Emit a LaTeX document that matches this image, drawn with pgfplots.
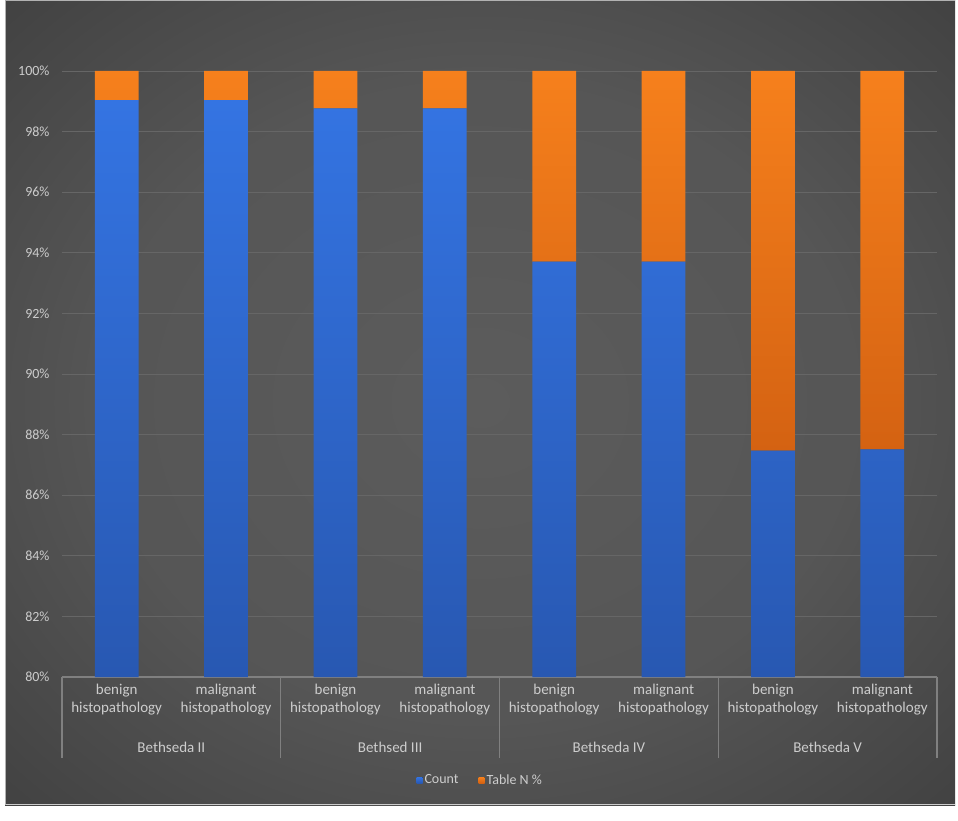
\documentclass[border=0pt]{standalone}
\usepackage{pgfplots}
\pgfplotsset{compat=1.18}
\usepackage{fontspec}
\setmainfont{Carlito}
\definecolor{lbl}{RGB}{205,205,205}
\definecolor{blueA}{RGB}{52,116,226}
\definecolor{blueB}{RGB}{40,88,178}
\definecolor{orA}{RGB}{246,128,28}
\definecolor{orB}{RGB}{212,98,18}
\definecolor{gridc}{RGB}{102,102,102}
\definecolor{sepc}{RGB}{128,128,128}
\definecolor{bgin}{RGB}{92,92,92}
\definecolor{bgmid}{RGB}{60,60,60}
\definecolor{bgout}{RGB}{34,34,34}
\pgfdeclareradialshading{bgshade}{\pgfpoint{0bp}{0bp}}{color(0bp)=(bgin); color(20bp)=(bgin!80!bgmid); color(40bp)=(bgmid); color(60bp)=(bgout); color(100bp)=(bgout)}
\begin{document}
\begin{tikzpicture}[x=1pt,y=1pt]
\fill[white] (0,0) rectangle (958,820);
\shade[shading=bgshade] (5,15) rectangle (955,820);
\draw[gray!60, line width=1pt] (5.5,15.5) -- (5.5,819.5) -- (955,819.5);
\draw[gray!40, line width=1pt] (5.5,15.5) -- (955,15.5);
\begin{axis}[
  at={(62pt,143pt)}, anchor=south west,
  scale only axis, width=875pt, height=606pt,
  ybar stacked, bar width=0.4,
  xmin=-0.5, xmax=7.5, ymin=80, ymax=100,
  clip mode=individual,
  axis line style={draw=none},
  major tick length=0pt,
  ytick={80,82,...,100},
  yticklabels={80\%,82\%,84\%,86\%,88\%,90\%,92\%,94\%,96\%,98\%,100\%},
  yticklabel style={xshift=-9pt, font=\fontsize{14}{16}\selectfont, text=lbl},
  xtick={0,...,7},
  xticklabels={{benign\\histopathology},{malignant\\histopathology},{benign\\histopathology},{malignant\\histopathology},{benign\\histopathology},{malignant\\histopathology},{benign\\histopathology},{malignant\\histopathology}},
  xticklabel style={align=center, yshift=-4pt, font=\fontsize{15}{18}\selectfont, text=lbl},
  ymajorgrids, grid style={gridc, line width=0.9pt},
  legend columns=2,
  legend style={at={(0.478,-0.170)}, anchor=center, draw=none, fill=none,
    font=\fontsize{14}{16}\selectfont, text=lbl,
    /tikz/every even column/.append style={column sep=18pt}},
  legend image code/.code={\fill[#1] (0pt,-3pt) rectangle (6pt,3pt);},
]
\addplot[draw=none, shade, top color=blueA, bottom color=blueB] coordinates {(0,99.04) (1,99.04) (2,98.77) (3,98.77) (4,93.71) (5,93.71) (6,87.47) (7,87.51)};
\addlegendentry{Count}
\addplot[draw=none, shade, top color=orA, bottom color=orB] coordinates {(0,0.96) (1,0.96) (2,1.23) (3,1.23) (4,6.29) (5,6.29) (6,12.53) (7,12.49)};
\addlegendentry{Table N \%}
\draw[sepc, line width=1.2pt] (axis cs:-0.5,80) -- (axis cs:7.5,80);
\pgfplotsinvokeforeach{-0.5,1.5,3.5,5.5,7.5}{
  \draw[sepc, line width=1.2pt] (axis cs:#1,80) -- ([yshift=-81pt]axis cs:#1,80);
}
\node[text=lbl, font=\fontsize{15}{18}\selectfont] at ([yshift=-70pt]axis cs:0.5,80) {Bethseda II};
\node[text=lbl, font=\fontsize{15}{18}\selectfont] at ([yshift=-70pt]axis cs:2.5,80) {Bethsed III};
\node[text=lbl, font=\fontsize{15}{18}\selectfont] at ([yshift=-70pt]axis cs:4.5,80) {Bethseda IV};
\node[text=lbl, font=\fontsize{15}{18}\selectfont] at ([yshift=-70pt]axis cs:6.5,80) {Bethseda V};
\end{axis}
\end{tikzpicture}
\end{document}
